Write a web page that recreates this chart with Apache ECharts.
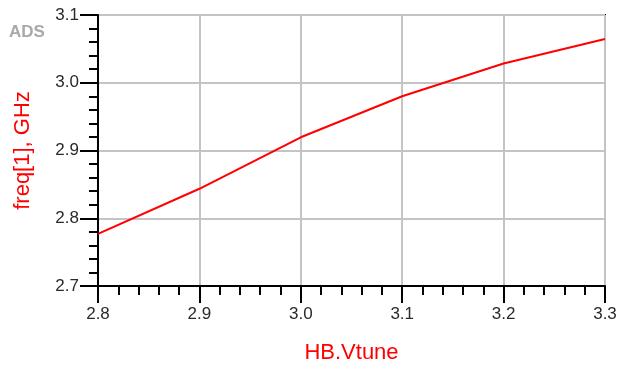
<!DOCTYPE html>
<html>
<head>
<meta charset="utf-8">
<script src="https://cdn.jsdelivr.net/npm/echarts@6/dist/echarts.min.js"></script>
<style>
  html, body { margin: 0; padding: 0; background: #fff; }
  #chart { width: 620px; height: 369px; }
</style>
</head>
<body>
<div id="chart"></div>
<script>
// sweep points (HB.Vtune) and the measured frequency
const vtune = [2.8, 2.9, 3.0, 3.1, 3.2, 3.3]
const freq = [2.777, 2.8435, 2.9195, 2.980, 3.0285, 3.0645]

const chart = echarts.init(document.getElementById('chart'))
const font = 'Liberation Sans, Arial, sans-serif'

chart.setOption({
  animation: false,
  //ADS 标记
  graphic: [{
    type: 'text',
    left: 9,
    top: 24,
    style: { text: 'ADS', fill: '#a8a8a8', font: 'bold 17px ' + font }
  }],
  grid: {
    left: 98, right: 15, top: 15, bottom: 83,
    show: true,
    borderColor: '#000',
    borderWidth: 2
  },
  xAxis: {
    type: 'value',
    min: 2.8, max: 3.3, interval: 0.1,
    name: 'HB.Vtune',
    nameLocation: 'middle',
    nameGap: 56,
    nameTextStyle: { color: '#ff0000', fontSize: 22, fontFamily: font },
    axisLine: { show: true, lineStyle: { color: '#000', width: 2 } },
    axisTick: { show: true, inside: false, length: 17, lineStyle: { color: '#000', width: 2 } },
    minorTick: { show: true, splitNumber: 5, length: 9, lineStyle: { color: '#000', width: 2 } },
    axisLabel: { color: '#2a2a2a', fontSize: 17, fontFamily: font, margin: 20, formatter: v => v.toFixed(1) },
    splitLine: { show: true, lineStyle: { color: '#c4c4c4', width: 2 } }
  },
  yAxis: {
    type: 'value',
    min: 2.7, max: 3.1, interval: 0.1,
    name: 'freq[1], GHz',
    nameLocation: 'middle',
    nameGap: 64,
    nameTextStyle: { color: '#ff0000', fontSize: 22, fontFamily: font },
    axisLine: { show: true, lineStyle: { color: '#000', width: 2 } },
    axisTick: { show: true, inside: false, length: 18, lineStyle: { color: '#000', width: 2 } },
    minorTick: { show: true, splitNumber: 5, length: 9, lineStyle: { color: '#000', width: 2 } },
    axisLabel: { color: '#2a2a2a', fontSize: 17, fontFamily: font, margin: 19, formatter: v => v.toFixed(1) },
    splitLine: { show: true, lineStyle: { color: '#c4c4c4', width: 2 } }
  },
  series: [{
    type: 'line',
    data: vtune.map((v, i) => [v, freq[i]]),
    showSymbol: false,
    lineStyle: { color: '#ff0000', width: 2 }
  }]
})
</script>
</body>
</html>
